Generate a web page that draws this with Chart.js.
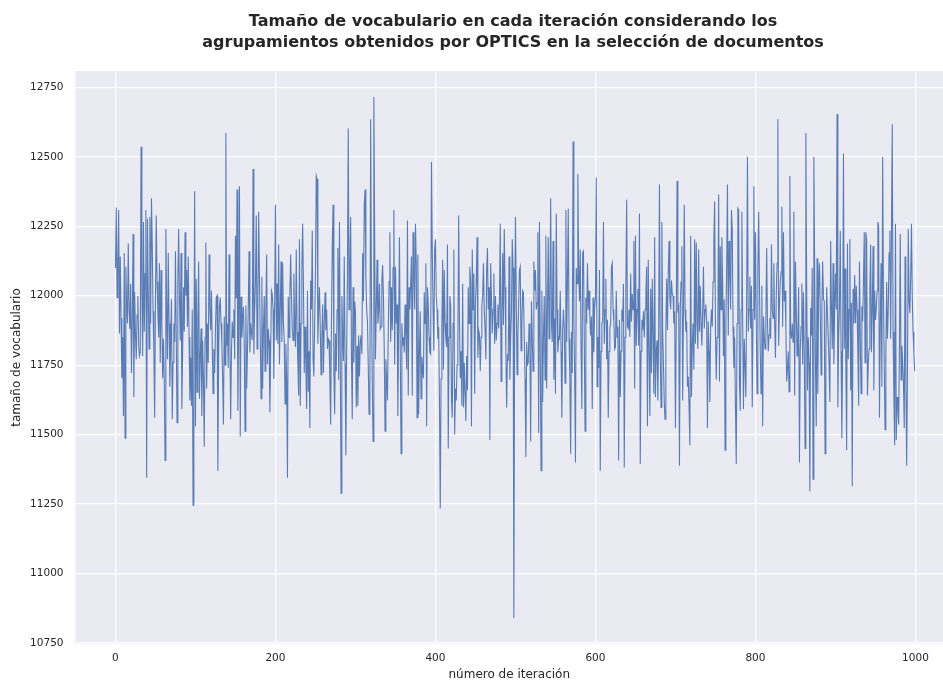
<!DOCTYPE html>
<html>
<head>
<meta charset="utf-8">
<script src="https://cdn.jsdelivr.net/npm/chart.js@4.4.0/dist/chart.umd.min.js"></script>
<style>
  html, body { margin: 0; padding: 0; background: #ffffff; }
  #wrap { width: 943px; height: 682px; }
</style>
</head>
<body>
<div id="wrap"><canvas id="c" width="943" height="682"></canvas></div>
<script>
// Vocabulary size recorded at each of the 1000 iterations (OPTICS clustering run)
const vocabSize = [
  12100,12317,11993,12104,12308,11864,12141,11920,11703,11850,
  11567,12154,11487,12104,11960,11901,12188,11950,11880,12043,
  11722,11910,12222,11635,12012,11860,11771,11930,11999,11820,
  11783,11796,12536,12010,11783,12265,11870,12080,12308,11345,
  12277,12010,11808,12283,11900,12351,12180,11944,11800,11561,
  11980,12289,12050,11944,11850,12117,11759,12092,11900,11703,
  11845,11700,11407,12240,11960,11771,12154,11900,11672,11840,
  11987,11555,11760,11900,11833,12160,11850,11543,12055,12240,
  11990,11839,12154,11592,11800,12030,11870,12228,12000,12092,
  11888,12141,11850,11623,11777,11604,11950,11246,11700,12376,

  11530,12060,11653,11900,12123,11629,11780,11882,11567,11839,
  11700,11456,11850,12191,11666,11900,11759,12148,11960,11876,
  12018,11820,11647,11808,11722,11880,11993,12000,11370,11800,
  11962,11993,11900,11827,11700,11536,11925,11750,12586,11820,
  11900,11740,12148,11850,11555,11800,11907,11850,11950,11771,
  12216,11990,12382,11586,11900,12394,11493,11996,11850,11910,
  11960,11820,11512,11965,11666,11800,11957,12160,11796,11900,
  11864,11840,12456,11790,11944,12050,12289,11808,11950,12302,
  12067,11850,11629,12068,11666,11880,11999,11728,11950,12148,
  11753,11880,11839,11580,11800,12018,12006,11950,11700,11980,

  12327,11839,12043,11827,12184,11752,11950,12123,11833,12117,
  11900,11839,11610,11827,11700,11345,11996,11850,12000,12148,
  11996,11880,11839,12080,11900,11815,12166,11870,11760,11641,
  12203,11604,11900,12098,12259,12030,11722,11888,11750,11592,
  12018,11654,11800,11524,12055,11950,12234,11771,11709,11900,
  12080,12431,12420,11827,11950,12030,11882,11716,11850,11968,
  11722,11900,12012,11876,11950,11808,11845,11839,11700,11536,
  11900,12178,12327,11728,11573,11864,11728,11950,12172,11697,
  12265,11771,11289,11999,11850,11765,12141,11753,11425,11800,
  12080,12602,11950,12100,12283,11783,11555,12030,11759,11980,

  11940,11598,11820,11604,11857,11709,11830,11857,11790,12154,
  11980,12327,12382,12068,11950,11907,11750,11573,11620,12635,
  11993,11700,11475,12715,12222,11771,11950,12129,11900,11944,
  12043,11880,11888,12055,12110,11993,11800,11512,11771,11700,
  11623,11870,12050,12228,11833,12030,11876,12100,12308,11752,
  12104,11900,11968,11567,11900,12210,11800,11431,11901,11820,
  11850,11796,11968,11850,11734,12271,11641,12030,11950,12043,
  12141,11641,12228,12080,11950,12259,12117,11561,12148,11573,
  11800,11944,11629,11780,11734,11703,12012,11900,12117,11530,
  12030,11962,11850,11796,11790,12481,12166,11950,11802,12166,

  12203,11996,11950,11845,11888,11623,11234,11700,11888,12129,
  11734,12092,11900,11845,11815,12184,11450,11850,11999,11962,
  11629,11561,11900,12166,11500,11666,11623,11750,11827,12289,
  11907,11703,11800,11604,12043,11598,11759,11650,11549,11783,
  11660,12030,11900,12104,12043,11530,12166,11950,12080,11647,
  11968,12050,12210,11777,11876,11860,11728,11850,11962,12000,
  12117,11944,11880,11771,12092,12172,11950,12030,11481,12117,
  11993,11864,11950,12080,11827,11999,11839,11900,11968,11882,
  11980,12259,11691,11900,12154,11895,12240,12030,11800,11598,
  11790,11765,12141,11697,11850,11944,12203,12100,10840,11900,

  12283,11993,11716,11850,11968,12092,12104,11802,11900,12018,
  12012,11845,11700,11419,11833,11752,11759,11900,11839,11475,
  11980,11850,11728,12123,12018,12092,11950,11974,12228,11506,
  12265,11800,11370,12018,11617,11850,11999,11697,12216,11666,
  11950,12210,11845,11968,12351,11900,11833,12197,11697,11918,
  11647,12296,11950,11796,11851,11845,12018,11800,11561,11876,
  11950,11882,11685,12308,11833,12050,12314,11845,11700,11431,
  11870,11722,12555,11900,11728,11400,12100,12043,12438,12104,
  11980,12166,11800,11592,12154,12160,11850,11512,11993,11900,
  12117,11950,12018,11919,11857,11925,11592,11993,11796,11950,

  11990,12425,11672,11850,11740,12092,11370,11800,11901,11907,
  12265,11827,11950,12061,11771,11913,11561,11800,11888,11895,
  12104,12117,11950,11907,11808,11815,12018,11850,11888,11407,
  11913,11635,11800,11950,11907,12043,11382,11850,12018,12345,
  11888,11882,11950,11851,12080,11907,12006,11950,12197,11666,
  12216,11820,11950,12024,11820,12296,11394,11800,11913,11876,
  11944,11850,11950,12000,12104,11530,12129,11800,11567,12024,
  11722,12061,11850,11647,12210,11635,11800,11839,11623,11864,
  12400,11800,11598,12265,11876,11750,11617,11555,11876,12061,
  11876,12080,12197,11993,11950,12055,12006,11999,11900,11944,

  11524,11900,12413,11950,11962,11388,11950,12050,12178,11623,
  11944,12327,11950,11870,11907,11672,11709,11600,11462,12216,
  11635,11820,11900,11734,12203,11827,12191,11900,11808,12166,
  11870,12036,11900,11820,11950,12104,11882,11950,11968,11907,
  11524,11907,11800,11617,11888,11950,11888,12050,12203,12339,
  11870,11697,11850,11907,12364,11691,12178,11950,12210,12043,
  11783,11987,11444,11888,12100,12400,11857,12197,12080,11950,
  12308,12240,11888,11740,11850,11598,11394,11900,12314,12308,
  11697,11586,11950,12302,11913,11592,11845,11750,11635,11999,
  12500,11870,11950,12068,11882,12036,11598,11950,12394,11913,

  12228,11900,11647,12092,12302,12043,11800,11647,12036,11530,
  11925,11850,11808,11913,12172,11907,11800,11858,11919,11845,
  12184,11950,11919,12117,11901,11777,12000,12117,12635,11820,
  11968,12050,12086,12320,11888,12228,11980,12018,11882,11691,
  11734,11800,11654,12431,11870,11845,11900,11833,12302,11641,
  12123,11950,11783,11857,12030,11400,11800,11888,12043,11752,
  12012,11800,11450,12586,12043,11660,11850,11759,11296,11956,
  11857,12100,11339,12500,12092,11750,11530,12135,11647,12030,
  12117,11950,11715,11950,12123,11987,11980,11431,11800,12030,
  11931,11850,11753,11617,12197,11950,11808,12117,11753,11950,

  12080,11950,12654,11598,11850,11957,12234,11800,11487,11827,
  12512,11808,12098,11750,11444,12188,11771,11950,12203,11660,
  11975,11314,12024,11900,12074,11901,12037,11950,11800,11604,
  12123,11850,11647,11962,11907,12050,12228,11759,12228,12200,
  11641,11750,11808,12018,12184,11796,11950,12178,11660,12018,
  11913,11950,12018,12265,12250,11561,11900,12117,11672,12500,
  11993,11750,11518,11783,12049,11845,11950,12154,12234,11845,
  12228,12617,11870,11650,11462,12259,11481,11635,11600,11536,
  11827,12222,11697,11820,11765,11685,11524,12141,11700,11388,
  11722,12240,11980,11937,12068,12259,11993,11870,11800,11728
];

// Iteration numbers 0..999
const iterations = vocabSize.map((_, i) => i);

// Axis ticks
const xTickValues = [0, 200, 400, 600, 800, 1000];
const yTickValues = [10750, 11000, 11250, 11500, 11750, 12000, 12250, 12500, 12750];

// Texts
const titleLines = [
  'Tamaño de vocabulario en cada iteración considerando los',
  'agrupamientos obtenidos por OPTICS en la selección de documentos'
];
const xLabel = 'número de iteración';
const yLabel = 'tamaño de vocabulario';

// Axis limits with a 5% margin around the data
const xFirst = iterations[0], xLast = iterations[iterations.length - 1];
const xMargin = 0.05 * (xLast - xFirst);
const yLo = Math.min(...vocabSize), yHi = Math.max(...vocabSize);
const yMargin = 0.05 * (yHi - yLo);

const FONT = '"DejaVu Sans", "Liberation Sans", sans-serif';
const INK = '#262626';
const PLOT_LEFT = 75.5;   // width reserved for the y axis
const X_UNIT_PX = 0.8;    // pixels per iteration
const CANVAS_W = 943;

const xMin = xFirst - xMargin;
const xMax = xMin + (CANVAS_W - PLOT_LEFT) / X_UNIT_PX;
const xCenter = (xFirst - xMargin + xLast + xMargin) / 2;

const plotBackground = {
  id: 'plotBackground',
  beforeDraw(chart) {
    const { ctx, chartArea: a } = chart;
    ctx.save();
    ctx.fillStyle = '#EAEAF2';
    ctx.fillRect(a.left, a.top, a.right - a.left, a.bottom - a.top);
    ctx.restore();
  }
};

const titleBlock = {
  id: 'titleBlock',
  afterDraw(chart) {
    const ctx = chart.ctx;
    const cx = chart.scales.x.getPixelForValue(xCenter) - 2;
    ctx.save();
    ctx.fillStyle = INK;
    ctx.font = 'bold 16px ' + FONT;
    ctx.textAlign = 'center';
    ctx.textBaseline = 'middle';
    ctx.fillText(titleLines[0], cx, 21.5);
    ctx.fillText(titleLines[1], cx, 42.5);
    ctx.restore();
  }
};

new Chart(document.getElementById('c'), {
  type: 'line',
  data: {
    labels: iterations,
    datasets: [{
      data: iterations.map((x, i) => ({ x: x, y: vocabSize[i] })),
      borderColor: 'rgba(76,114,176,0.92)',
      borderWidth: 1.1,
      pointRadius: 0,
      tension: 0,
      fill: false
    }]
  },
  options: {
    responsive: false,
    devicePixelRatio: 1,
    animation: false,
    layout: { padding: { top: 71, left: 0, right: 0, bottom: 0 } },
    plugins: {
      legend: { display: false },
      tooltip: { enabled: false },
      title: { display: false }
    },
    scales: {
      x: {
        type: 'linear',
        min: xMin,
        max: xMax,
        afterBuildTicks(scale) { scale.ticks = xTickValues.map(v => ({ value: v })); },
        afterFit(scale) { scale.height = 38; },
        grid: { color: '#ffffff', lineWidth: 1.2, drawTicks: false },
        border: { display: false },
        ticks: {
          color: INK,
          font: { family: FONT, size: 10.5 },
          padding: 8,
          maxRotation: 0,
          callback: v => String(v)
        },
        title: {
          display: true,
          text: xLabel,
          color: INK,
          font: { family: FONT, size: 12 },
          padding: { top: 0, bottom: 0 }
        }
      },
      y: {
        type: 'linear',
        min: yLo - yMargin,
        max: yHi + yMargin,
        afterBuildTicks(scale) { scale.ticks = yTickValues.map(v => ({ value: v })); },
        afterFit(scale) { scale.width = PLOT_LEFT; },
        grid: { color: '#ffffff', lineWidth: 1.2, drawTicks: false },
        border: { display: false },
        ticks: {
          color: INK,
          font: { family: FONT, size: 10.5 },
          padding: 12,
          callback: v => String(v)
        },
        title: {
          display: true,
          text: yLabel,
          color: INK,
          font: { family: FONT, size: 12 },
          padding: { top: 10, bottom: 0 }
        }
      }
    }
  },
  plugins: [plotBackground, titleBlock]
});
</script>
</body>
</html>
